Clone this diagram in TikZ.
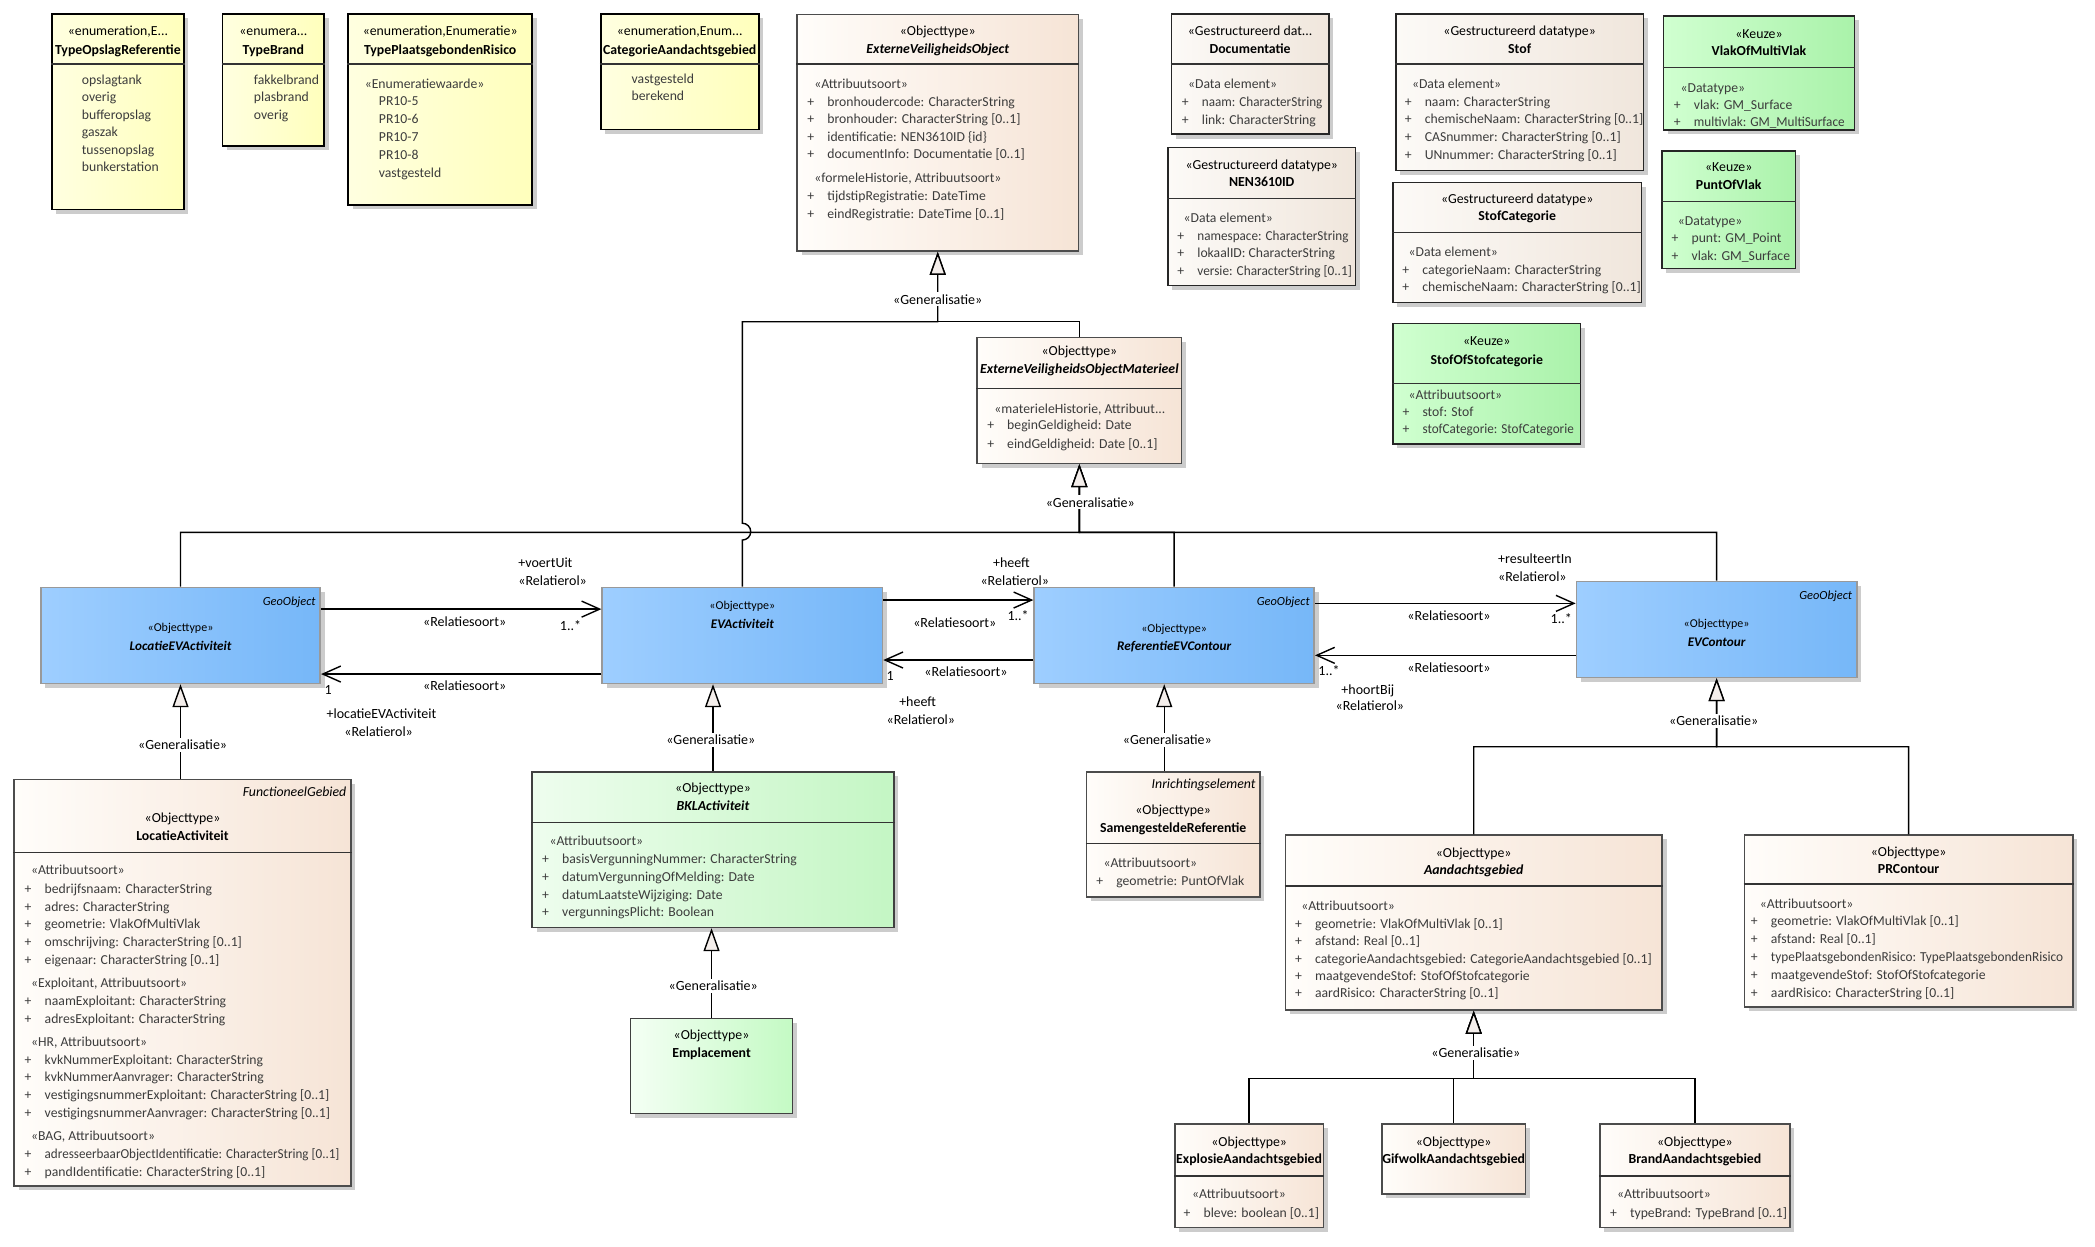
\documentclass[tikz,border=0pt]{standalone}
\usepackage{fontspec}
\setmainfont{Carlito}
\usetikzlibrary{arrows.meta,fit,shadows}
\definecolor{enumleft}{RGB}{255,255,224}
\definecolor{enumright}{RGB}{255,255,188}
\definecolor{objleft}{RGB}{255,253,250}
\definecolor{objright}{RGB}{246,228,214}
\definecolor{dataleft}{RGB}{252,250,247}
\definecolor{dataright}{RGB}{240,230,220}
\definecolor{geoleft}{RGB}{158,206,255}
\definecolor{georight}{RGB}{118,183,248}
\definecolor{bklleft}{RGB}{238,253,238}
\definecolor{bklright}{RGB}{196,246,196}
\definecolor{keuzeleft}{RGB}{208,255,208}
\definecolor{keuzeright}{RGB}{170,242,170}
\definecolor{empleft}{RGB}{244,255,244}
\definecolor{empright}{RGB}{196,250,196}
\definecolor{gentri}{RGB}{244,238,235}
\definecolor{attrgray}{RGB}{60,60,60}
\newcommand{\attrplus}{\makebox[10pt][l]{+}}
\newcommand{\squeeze}[2]{\scalebox{#1}[1]{#2}}
\tikzset{
  umlbox/.style={line width=0.8pt, inner sep=0pt,
    drop shadow={shadow xshift=2.2pt, shadow yshift=-2.2pt, fill=black, opacity=0.2}},
  enumbox/.style={umlbox, draw=black, left color=enumleft, right color=enumright},
  objbox/.style={umlbox, draw=black!70, left color=objleft, right color=objright},
  databox/.style={umlbox, draw=black!85, left color=dataleft, right color=dataright},
  geobox/.style={umlbox, draw=black!40, left color=geoleft, right color=georight},
  bklbox/.style={umlbox, draw=black!75, left color=bklleft, right color=bklright},
  keuzebox/.style={umlbox, draw=black!85, left color=keuzeleft, right color=keuzeright},
  empbox/.style={umlbox, draw=black!75, left color=empleft, right color=empright},
  compsep/.style={line width=0.8pt, draw=black!80},
  stereo/.style={font=\fontsize{6.9}{8}\selectfont, inner sep=0pt, anchor=mid},
  clsname/.style={font=\fontsize{6.9}{8}\selectfont\bfseries, inner sep=0pt, anchor=mid},
  absname/.style={font=\fontsize{6.9}{8}\selectfont\bfseries\itshape, inner sep=0pt, anchor=mid},
  suptag/.style={font=\fontsize{6.9}{8}\selectfont\itshape, inner sep=0pt, anchor=mid east},
  grphead/.style={font=\fontsize{6.85}{8}\selectfont, text=attrgray, inner sep=0pt, anchor=mid west},
  attr/.style={grphead},
  geostereo/.style={font=\fontsize{6}{7}\selectfont, inner sep=0pt, anchor=mid},
  geoname/.style={font=\fontsize{6.6}{8}\selectfont\bfseries\itshape, inner sep=0pt, anchor=mid},
  geotag/.style={font=\fontsize{6.2}{7}\selectfont\itshape, inner sep=0pt, anchor=mid east},
  gen/.style={line width=0.7pt, -{Triangle[open, length=11.5pt, width=8pt, fill=gentri]}},
  assoc/.style={line width=0.7pt, -{Straight Barb[length=9pt, width=8pt]}},
  genlabel/.style={font=\fontsize{7}{8}\selectfont, fill=white, inner sep=1pt, anchor=mid},
  rellabel/.style={font=\fontsize{7}{8}\selectfont, inner sep=0pt, anchor=mid}
}

\begin{document}
\begin{tikzpicture}[x=0.668pt, y=-0.668pt]
  \useasboundingbox (0,0) rectangle (1568,933);
  \fill[white] (0,0) rectangle (1568,933);

  % enumerations
  \node[enumbox, fit={(38.8,10.5) (137.7,156.7)}] (tor) {};
  \draw[compsep] (tor.west |- 0,48.1) -- (tor.east |- 0,48.1);
  \node[stereo] (tor-s) at (tor.center |- 0,23.2) {«enumeration,E...};
  \node[clsname] (tor-n) at (tor.center |- 0,36.9) {TypeOpslagReferentie};
  \foreach \t [count=\i from 0] in {opslagtank, overig, bufferopslag, gaszak, tussenopslag, bunkerstation}
    \node[attr] (tor-v\i) at (61, 59.4+13.1*\i) {\t};

  \node[enumbox, fit={(166.5,10.5) (242.7,109.3)}] (tbr) {};
  \draw[compsep] (tbr.west |- 0,48.1) -- (tbr.east |- 0,48.1);
  \node[stereo] (tbr-s) at (tbr.center |- 0,23.2) {«enumera...};
  \node[clsname] (tbr-n) at (tbr.center |- 0,36.9) {TypeBrand};
  \foreach \t [count=\i from 0] in {fakkelbrand, plasbrand, overig}
    \node[attr] (tbr-v\i) at (189.8, 59.4+13.1*\i) {\t};

  \node[enumbox, fit={(260.6,10.5) (398.3,153.4)}] (tpr) {};
  \draw[compsep] (tpr.west |- 0,48.1) -- (tpr.east |- 0,48.1);
  \node[stereo] (tpr-s) at (tpr.center |- 0,23.2) {«enumeration,Enumeratie»};
  \node[clsname] (tpr-n) at (tpr.center |- 0,36.9) {TypePlaatsgebondenRisico};
  \node[grphead] (tpr-g) at (272.7,62.4) {«Enumeratiewaarde»};
  \foreach \t [count=\i from 0] in {PR10-5, PR10-6, PR10-7, PR10-8, vastgesteld}
    \node[attr] (tpr-v\i) at (283.3, 75.6+13.5*\i) {\t};

  \node[enumbox, fit={(449.6,10.5) (567.9,96.8)}] (cag) {};
  \draw[compsep] (cag.west |- 0,48.1) -- (cag.east |- 0,48.1);
  \node[stereo] (cag-s) at (cag.center |- 0,23.2) {«enumeration,Enum...};
  \node[clsname] (cag-n) at (cag.center |- 0,36.9) {CategorieAandachtsgebied};
  \foreach \t [count=\i from 0] in {vastgesteld, berekend}
    \node[attr] (cag-v\i) at (472.5, 58.9+12.7*\i) {\t};

  % ExterneVeiligheidsObject
  \node[objbox, fit={(596.6,11) (807.1,187.9)}] (evo) {};
  \draw[compsep] (evo.west |- 0,48.1) -- (evo.east |- 0,48.1);
  \node[stereo] (evo-s) at (evo.center |- 0,23.2) {«Objecttype»};
  \node[absname] (evo-n) at (evo.center |- 0,36.4) {ExterneVeiligheidsObject};
  \node[grphead] (evo-g1) at (609.2,62.9) {«Attribuutsoort»};
  \foreach \t [count=\i from 0] in {bronhoudercode: CharacterString, bronhouder: CharacterString [0..1], identificatie: NEN3610ID \{id\}, documentInfo: Documentatie [0..1]}
    \node[attr] (evo-a\i) at (604, 76+13.1*\i) {\attrplus\t};
  \node[grphead] (evo-g2) at (609.2,133) {«formeleHistorie, Attribuutsoort»};
  \foreach \t [count=\i from 0] in {tijdstipRegistratie: DateTime, eindRegistratie: DateTime [0..1]}
    \node[attr] (evo-h\i) at (604, 146.5+13.2*\i) {\attrplus\t};

  % datatypes
  \node[databox, fit={(876.8,10.5) (994.5,100.5)}] (doc) {};
  \draw[compsep] (doc.west |- 0,48.1) -- (doc.east |- 0,48.1);
  \node[stereo] (doc-s) at (doc.center |- 0,23) {«Gestructureerd dat...};
  \node[clsname] (doc-n) at (doc.center |- 0,36.2) {Documentatie};
  \node[grphead] (doc-g) at (888.9,62.4) {«Data element»};
  \foreach \t [count=\i from 0] in {{\squeeze{0.96}{naam: CharacterString}}, link: CharacterString}
    \node[attr] (doc-a\i) at (884.3, 76.1+13.2*\i) {\attrplus\t};

  \node[databox, fit={(874.2,110.3) (1014.5,213.8)}] (nen) {};
  \draw[compsep] (nen.west |- 0,148.7) -- (nen.east |- 0,148.7);
  \node[stereo] (nen-s) at (nen.center |- 0,123) {«Gestructureerd datatype»};
  \node[clsname] (nen-n) at (nen.center |- 0,136) {NEN3610ID};
  \node[grphead] (nen-g) at (885.6,162.7) {«Data element»};
  \foreach \t [count=\i from 0] in {{\squeeze{0.96}{namespace: CharacterString}}, lokaalID: CharacterString, {\squeeze{0.97}{versie: CharacterString [0..1]}}}
    \node[attr] (nen-a\i) at (880.9, 176.4+12.95*\i) {\attrplus\t};

  \node[databox, fit={(1044.7,10.5) (1230,127.5)}] (stof) {};
  \draw[compsep] (stof.west |- 0,48.1) -- (stof.east |- 0,48.1);
  \node[stereo] (stof-s) at (stof.center |- 0,23) {«Gestructureerd datatype»};
  \node[clsname] (stof-n) at (stof.center |- 0,36.2) {Stof};
  \node[grphead] (stof-g) at (1056.5,62.4) {«Data element»};
  \foreach \t [count=\i from 0] in {naam: CharacterString, chemischeNaam: CharacterString [0..1], CASnummer: CharacterString [0..1], UNnummer: CharacterString [0..1]}
    \node[attr] (stof-a\i) at (1051.1, 76.1+13.13*\i) {\attrplus\t};

  \node[databox, fit={(1042.5,136.7) (1228.6,226.3)}] (scat) {};
  \draw[compsep] (scat.west |- 0,173.9) -- (scat.east |- 0,173.9);
  \node[stereo] (scat-s) at (scat.center |- 0,148.7) {«Gestructureerd datatype»};
  \node[clsname] (scat-n) at (scat.center |- 0,161.4) {StofCategorie};
  \node[grphead] (scat-g) at (1054,188.4) {«Data element»};
  \foreach \t [count=\i from 0] in {categorieNaam: CharacterString, chemischeNaam: CharacterString [0..1]}
    \node[attr] (scat-a\i) at (1049.3, 202.1+12.5*\i) {\attrplus\t};

  % keuze types
  \node[keuzebox, fit={(1245,12) (1388,97.3)}] (vmv) {};
  \draw[compsep] (vmv.west |- 0,50.4) -- (vmv.east |- 0,50.4);
  \node[stereo] (vmv-s) at (vmv.center |- 0,25) {«Keuze»};
  \node[clsname] (vmv-n) at (vmv.center |- 0,37.9) {VlakOfMultiVlak};
  \node[grphead] (vmv-g) at (1257.5,65.4) {«Datatype»};
  \foreach \t [count=\i from 0] in {vlak: GM\_Surface, {\squeeze{0.96}{multivlak: GM\_MultiSurface}}}
    \node[attr] (vmv-a\i) at (1252.5, 78.6+12.5*\i) {\attrplus\t};

  \node[keuzebox, fit={(1243.8,112.8) (1343.9,201.1)}] (pov) {};
  \draw[compsep] (pov.west |- 0,150.7) -- (pov.east |- 0,150.7);
  \node[stereo] (pov-s) at (pov.center |- 0,124.8) {«Keuze»};
  \node[clsname] (pov-n) at (pov.center |- 0,138) {PuntOfVlak};
  \node[grphead] (pov-g) at (1255.5,165.2) {«Datatype»};
  \foreach \t [count=\i from 0] in {punt: GM\_Point, vlak: GM\_Surface}
    \node[attr] (pov-a\i) at (1250.8, 177.9+13.5*\i) {\attrplus\t};

  \node[keuzebox, fit={(1042.5,242) (1183,332.3)}] (sos) {};
  \draw[compsep] (sos.west |- 0,286.9) -- (sos.east |- 0,286.9);
  \node[stereo] (sos-s) at (sos.center |- 0,255.2) {«Keuze»};
  \node[clsname] (sos-n) at (sos.center |- 0,269) {StofOfStofcategorie};
  \node[grphead] (sos-g) at (1054,295.2) {«Attribuutsoort»};
  \foreach \t [count=\i from 0] in {stof: Stof, {\squeeze{0.96}{stofCategorie: StofCategorie}}}
    \node[attr] (sos-a\i) at (1049.4, 308.1+12.5*\i) {\attrplus\t};

  % ExterneVeiligheidsObjectMaterieel
  \node[objbox, fit={(731.4,252.5) (884.3,346.8)}] (evomat) {};
  \draw[compsep] (evomat.west |- 0,290.9) -- (evomat.east |- 0,290.9);
  \node[stereo] (evomat-s) at (evomat.center |- 0,262.5) {«Objecttype»};
  \node[absname] (evomat-n) at (evomat.center |- 0,276.2) {ExterneVeiligheidsObjectMaterieel};
  \node[grphead] (evomat-g) at (744,305.6) {«materieleHistorie, Attribuut...};
  \foreach \t [count=\i from 0] in {beginGeldigheid: Date, eindGeldigheid: Date [0..1]}
    \node[attr] (evomat-a\i) at (738.6, 318.1+13.7*\i) {\attrplus\t};

  % GeoObject row
  \node[geobox, fit={(30.5,439.6) (239.7,511.5)}] (locevact) {};
  \node[geotag] (locevact-t) at (236.5,449.6) {GeoObject};
  \node[geostereo] (locevact-s) at (locevact.center |- 0,469) {«Objecttype»};
  \node[geoname] (locevact-n) at (locevact.center |- 0,483.6) {LocatieEVActiviteit};

  \node[geobox, fit={(450.7,439.6) (660.5,511.5)}] (evact) {};
  \node[geostereo] (evact-s) at (evact.center |- 0,452.8) {«Objecttype»};
  \node[geoname] (evact-n) at (evact.center |- 0,466.6) {EVActiviteit};

  \node[geobox, fit={(774,439.6) (983.6,511.5)}] (refev) {};
  \node[geotag] (refev-t) at (980.5,449.6) {GeoObject};
  \node[geostereo] (refev-s) at (refev.center |- 0,469.5) {«Objecttype»};
  \node[geoname] (refev-n) at (refev.center |- 0,483.6) {ReferentieEVContour};

  \node[geobox, fit={(1179.9,435.1) (1389.7,507)}] (evc) {};
  \node[geotag] (evc-t) at (1386.5,445.4) {GeoObject};
  \node[geostereo] (evc-s) at (evc.center |- 0,466) {«Objecttype»};
  \node[geoname] (evc-n) at (evc.center |- 0,480.3) {EVContour};

  % LocatieActiviteit
  \node[objbox, fit={(10.7,583.3) (262.5,887.7)}] (locact) {};
  \draw[compsep] (locact.west |- 0,638) -- (locact.east |- 0,638);
  \node[suptag] (locact-t) at (259.5,592.6) {FunctioneelGebied};
  \node[stereo] (locact-s) at (locact.center |- 0,612) {«Objecttype»};
  \node[clsname] (locact-n) at (locact.center |- 0,625.5) {LocatieActiviteit};
  \node[grphead] (locact-g1) at (23,651.2) {«Attribuutsoort»};
  \foreach \t [count=\i from 0] in {bedrijfsnaam: CharacterString, adres: CharacterString, geometrie: VlakOfMultiVlak, omschrijving: CharacterString [0..1], eigenaar: CharacterString [0..1]}
    \node[attr] (locact-a\i) at (18.2, 664.9+13.4*\i) {\attrplus\t};
  \node[grphead] (locact-g2) at (23,735.3) {«Exploitant, Attribuutsoort»};
  \foreach \t [count=\i from 0] in {naamExploitant: CharacterString, adresExploitant: CharacterString}
    \node[attr] (locact-b\i) at (18.2, 749+13.5*\i) {\attrplus\t};
  \node[grphead] (locact-g3) at (23,779.7) {«HR, Attribuutsoort»};
  \foreach \t [count=\i from 0] in {kvkNummerExploitant: CharacterString, kvkNummerAanvrager: CharacterString, vestigingsnummerExploitant: CharacterString [0..1], vestigingsnummerAanvrager: CharacterString [0..1]}
    \node[attr] (locact-c\i) at (18.2, 792.9+13.23*\i) {\attrplus\t};
  \node[grphead] (locact-g4) at (23,850) {«BAG, Attribuutsoort»};
  \foreach \t [count=\i from 0] in {{\squeeze{0.955}{adresseerbaarObjectIdentificatie: CharacterString [0..1]}}, pandIdentificatie: CharacterString [0..1]}
    \node[attr] (locact-d\i) at (18.2, 863.8+13.2*\i) {\attrplus\t};

  % BKLActiviteit and Emplacement
  \node[bklbox, fit={(398.3,577.6) (669,694.1)}] (bkl) {};
  \draw[compsep] (bkl.west |- 0,615.5) -- (bkl.east |- 0,615.5);
  \node[stereo] (bkl-s) at (bkl.center |- 0,589.6) {«Objecttype»};
  \node[absname] (bkl-n) at (bkl.center |- 0,602.8) {BKLActiviteit};
  \node[grphead] (bkl-g) at (411,629.2) {«Attribuutsoort»};
  \foreach \t [count=\i from 0] in {basisVergunningNummer: CharacterString, datumVergunningOfMelding: Date, datumLaatsteWijziging: Date, vergunningsPlicht: Boolean}
    \node[attr] (bkl-a\i) at (405.5, 643+13.2*\i) {\attrplus\t};

  \node[empbox, fit={(472,762.2) (593.1,833.3)}] (emp) {};
  \node[stereo] (emp-s) at (emp.center |- 0,774.7) {«Objecttype»};
  \node[clsname] (emp-n) at (emp.center |- 0,788) {Emplacement};

  % SamengesteldeReferentie
  \node[objbox, fit={(813.3,577.6) (942.9,671.2)}] (samref) {};
  \draw[compsep] (samref.west |- 0,631.2) -- (samref.east |- 0,631.2);
  \node[suptag] (samref-t) at (940,586.8) {Inrichtingselement};
  \node[stereo] (samref-s) at (samref.center |- 0,606.3) {«Objecttype»};
  \node[clsname] (samref-n) at (samref.center |- 0,619.5) {SamengesteldeReferentie};
  \node[grphead] (samref-g) at (825.7,645.7) {«Attribuutsoort»};
  \node[attr] (samref-a0) at (820.2,659.2) {\attrplus geometrie: PuntOfVlak};

  % contours
  \node[objbox, fit={(962,625) (1244,756)}] (aand) {};
  \draw[compsep] (aand.west |- 0,663.2) -- (aand.east |- 0,663.2);
  \node[stereo] (aand-s) at (aand.center |- 0,638.2) {«Objecttype»};
  \node[absname] (aand-n) at (aand.center |- 0,651.2) {Aandachtsgebied};
  \node[grphead] (aand-g) at (973.7,678.1) {«Attribuutsoort»};
  \foreach \t [count=\i from 0] in {geometrie: VlakOfMultiVlak [0..1], afstand: Real [0..1], categorieAandachtsgebied: CategorieAandachtsgebied [0..1], maatgevendeStof: StofOfStofcategorie, aardRisico: CharacterString [0..1]}
    \node[attr] (aand-a\i) at (969, 691.1+13.05*\i) {\attrplus\t};

  \node[objbox, fit={(1305.6,625) (1551.4,753.5)}] (prc) {};
  \draw[compsep] (prc.west |- 0,661.7) -- (prc.east |- 0,661.7);
  \node[stereo] (prc-s) at (prc.center |- 0,637.5) {«Objecttype»};
  \node[clsname] (prc-n) at (prc.center |- 0,650.4) {PRContour};
  \node[grphead] (prc-g) at (1316.9,676.2) {«Attribuutsoort»};
  \foreach \t [count=\i from 0] in {geometrie: VlakOfMultiVlak [0..1], afstand: Real [0..1], {\squeeze{0.97}{typePlaatsgebondenRisico: TypePlaatsgebondenRisico}}, maatgevendeStof: StofOfStofcategorie, aardRisico: CharacterString [0..1]}
    \node[attr] (prc-a\i) at (1310.2, 689.1+13.5*\i) {\attrplus\t};

  \node[objbox, fit={(879.3,841.3) (990.5,918.7)}] (exp) {};
  \draw[compsep] (exp.west |- 0,880) -- (exp.east |- 0,880);
  \node[stereo] (exp-s) at (exp.center |- 0,854.6) {«Objecttype»};
  \node[clsname] (exp-n) at (exp.center |- 0,867) {ExplosieAandachtsgebied};
  \node[grphead] (exp-g) at (892,893.7) {«Attribuutsoort»};
  \node[attr] (exp-a0) at (885.6,907.7) {\attrplus bleve: boolean [0..1]};

  \node[objbox, fit={(1034.3,841.3) (1141.7,893.7)}] (gif) {};
  \node[stereo] (gif-s) at (gif.center |- 0,854.6) {«Objecttype»};
  \node[clsname] (gif-n) at (gif.center |- 0,867) {GifwolkAandachtsgebied};

  \node[objbox, fit={(1197.5,841.3) (1339.6,918.7)}] (brand) {};
  \draw[compsep] (brand.west |- 0,880) -- (brand.east |- 0,880);
  \node[stereo] (brand-s) at (brand.center |- 0,854.6) {«Objecttype»};
  \node[clsname] (brand-n) at (brand.center |- 0,867) {BrandAandachtsgebied};
  \node[grphead] (brand-g) at (1210.1,893.7) {«Attribuutsoort»};
  \node[attr] (brand-a0) at (1204.7,907.7) {\attrplus typeBrand: TypeBrand [0..1]};

  % generalisations
  \coordinate (evo-j) at (701.85,240.8);
  \coordinate (mat-j) at (807.85,398.5);
  \coordinate (evc-j) at (1284.8,558.9);
  \coordinate (aand-j) at (1103,807.1);
  \draw[gen] (evact.north) -- (evact.north |- 0,404.2)
    arc[start angle=-90, end angle=90, radius=4.2pt] -- (evact.north |- evo-j) -- (evo-j) -- (evo.south);
  \draw[gen] (evomat.north) |- (evo-j) -- (evo.south);
  \draw[gen] (locevact.north) |- (mat-j) -- (evomat.south);
  \draw[gen] (refev.north) |- (mat-j) -- (evomat.south);
  \draw[gen] (evc.north) |- (mat-j) -- (evomat.south);
  \draw[gen] (locact.north -| locevact.south) -- (locevact.south);
  \draw[gen] (bkl.north) -- (bkl.north |- evact.south);
  \draw[gen] (emp.north) -- (emp.north |- bkl.south);
  \draw[gen] ([xshift=-4.5pt]samref.north) -- ([xshift=-4.5pt]samref.north |- refev.south);
  \draw[gen] (aand.north) |- (evc-j) -- (evc.south);
  \draw[gen] (prc.north) |- (evc-j) -- (evc.south);
  \draw[gen] (exp.north) |- (aand-j) -- (aand.south);
  \draw[gen] (gif.north) |- (aand-j) -- (aand.south);
  \draw[gen] (brand.north) |- (aand-j) -- (aand.south);

  \node[genlabel] (g-evo) at (701.85,224) {«Generalisatie»};
  \node[genlabel] (g-mat) at (816,376) {«Generalisatie»};
  \node[genlabel] (g-locev) at (136.7,557.4) {«Generalisatie»};
  \node[genlabel] (g-bkl) at (532,553.9) {«Generalisatie»};
  \node[genlabel] (g-samref) at (873.7,553.9) {«Generalisatie»};
  \node[genlabel] (g-evc) at (1282.6,539.4) {«Generalisatie»};
  \node[genlabel] (g-emp) at (533.8,738) {«Generalisatie»};
  \node[genlabel] (g-aand) at (1104.6,788) {«Generalisatie»};

  % relations
  \draw[assoc] (locevact.east |- 0,455.9) -- (evact.west |- 0,455.9);
  \draw[assoc] (evact.west |- 0,504.5) -- (locevact.east |- 0,504.5);
  \draw[assoc] (evact.east |- 0,449.1) -- (refev.west |- 0,449.1);
  \draw[assoc] (refev.west |- 0,494) -- (evact.east |- 0,494);
  \draw[assoc] (refev.east |- 0,451.6) -- (evc.west |- 0,451.6);
  \draw[assoc] (evc.west |- 0,490.5) -- (refev.east |- 0,490.5);

  \node[rellabel] (r1-s) at (347.8,465.5) {«Relatiesoort»};
  \node[rellabel] (r1-m) at (427,468) {1..*};
  \node[rellabel, anchor=mid west] (r1-r) at (387.7,421.5) {+voertUit};
  \node[rellabel, anchor=mid west] (r1-st) at (387.7,435) {«Relatierol»};
  \node[rellabel] (r2-s) at (347.8,513) {«Relatiesoort»};
  \node[rellabel] (r2-m) at (245.6,516.5) {1};
  \node[rellabel] (r2-r) at (285.5,534.4) {+locatieEVActiviteit};
  \node[rellabel] (r2-st) at (283.4,547.7) {«Relatierol»};
  \node[rellabel] (r3-s) at (714.6,466) {«Relatiesoort»};
  \node[rellabel] (r3-m) at (762,460.6) {1..*};
  \node[rellabel] (r3-r) at (757,421.2) {+heeft};
  \node[rellabel] (r3-st) at (759.5,434.6) {«Relatierol»};
  \node[rellabel] (r4-s) at (723,503) {«Relatiesoort»};
  \node[rellabel] (r4-m) at (666.3,505.5) {1};
  \node[rellabel] (r4-r) at (686.8,525.2) {+heeft};
  \node[rellabel] (r4-st) at (689.2,538.4) {«Relatierol»};
  \node[rellabel] (r5-s) at (1084.5,461.1) {«Relatiesoort»};
  \node[rellabel] (r5-m) at (1168.5,462.8) {1..*};
  \node[rellabel, anchor=mid west] (r5-r) at (1121,418.4) {+resulteertIn};
  \node[rellabel, anchor=mid west] (r5-st) at (1121,431.6) {«Relatierol»};
  \node[rellabel] (r6-s) at (1084.5,499.5) {«Relatiesoort»};
  \node[rellabel] (r6-m) at (994.7,502) {1..*};
  \node[rellabel] (r6-r) at (1023.8,516) {+hoortBij};
  \node[rellabel] (r6-st) at (1025.3,528.2) {«Relatierol»};
\end{tikzpicture}
\end{document}
